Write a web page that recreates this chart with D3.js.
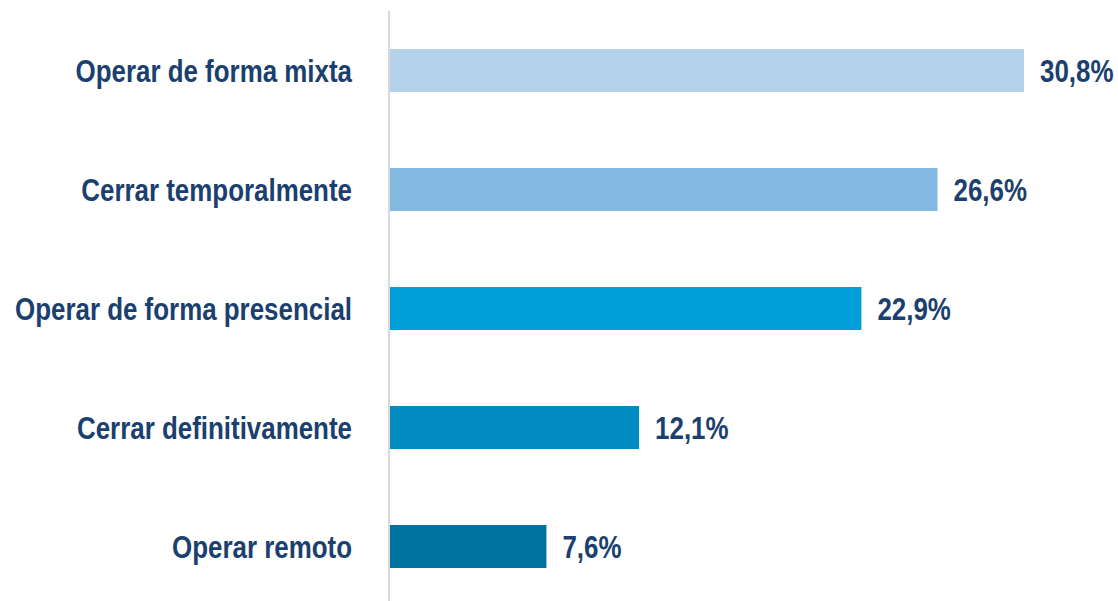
<!DOCTYPE html>
<html><head><meta charset="utf-8">
<script src="https://cdn.jsdelivr.net/npm/d3@7"></script>
<style>body{margin:0;background:#fff;}svg{display:block;}</style>
</head><body>
<svg id="c" width="1118" height="601"></svg>
<script>
const categories = ["Operar de forma mixta","Cerrar temporalmente","Operar de forma presencial","Cerrar definitivamente","Operar remoto"];
const values = [30.8, 26.6, 22.9, 12.1, 7.6];
const valueLabels = ["30,8%","26,6%","22,9%","12,1%","7,6%"];
const colors = ["#B4D3EA","#84B9E1","#009FDA","#008CC0","#00729F"];

const svg = d3.select("#c");
const x0 = 390;
const x = d3.scaleLinear().domain([0, 30.8]).range([x0, 1024]);
const y = d3.scaleBand().domain(categories).range([-10.5, 627.5]).paddingInner(0.6387).paddingOuter(0.5);
const font = "'Liberation Sans Narrow','Arial Narrow','Liberation Sans',Arial,sans-serif";
const txt = "#1B3F6E";
const sx = 0.81, fs = 32;

svg.append("line").attr("x1",389).attr("x2",389).attr("y1",11).attr("y2",601)
  .attr("stroke","#D9D9D9").attr("stroke-width",2);

svg.selectAll("rect.bar").data(categories).join("rect").attr("class","bar")
  .attr("x", x0).attr("y", d=>y(d)).attr("height", y.bandwidth())
  .attr("width", (d,i)=>x(values[i])-x0).attr("fill",(d,i)=>colors[i]);

svg.selectAll("text.cat").data(categories).join("text").attr("class","cat")
  .attr("transform",d=>`translate(352,${y(d)+y.bandwidth()/2}) scale(${sx},1)`)
  .attr("dy","0.35em")
  .attr("text-anchor","end").attr("font-family",font).attr("font-weight","bold")
  .attr("font-size",fs).attr("fill",txt).text(d=>d);

svg.selectAll("text.val").data(categories).join("text").attr("class","val")
  .attr("transform",(d,i)=>`translate(${x(values[i])+16},${y(d)+y.bandwidth()/2}) scale(${sx},1)`)
  .attr("dy","0.35em")
  .attr("font-family",font).attr("font-weight","bold")
  .attr("font-size",fs).attr("fill",txt).text((d,i)=>valueLabels[i]);
</script>
</body></html>
